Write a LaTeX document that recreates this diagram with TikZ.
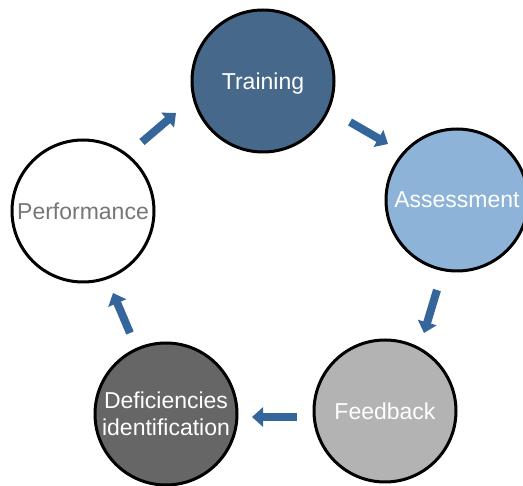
\documentclass[tikz,border=0pt]{standalone}
\usepackage{fontspec}
\setmainfont{Liberation Sans}
\usetikzlibrary{arrows.meta}
\definecolor{arrowblue}{RGB}{52,101,155}
\definecolor{trainfill}{RGB}{70,104,138}
\definecolor{assessfill}{RGB}{141,179,216}
\definecolor{feedfill}{RGB}{179,179,179}
\definecolor{deffill}{RGB}{102,102,102}
\definecolor{perftext}{RGB}{118,118,118}
\tikzset{
  stage/.style={circle, draw=black, line width=3pt, minimum size=142pt, inner sep=0pt,
    align=center, font=\fontsize{23}{27}\selectfont, text=white},
  flow/.style={draw=arrowblue, line width=8pt, -{Triangle[width=19pt,length=11pt]}, arrowblue}
}
\begin{document}
\begin{tikzpicture}[x=1pt,y=-1pt]
\useasboundingbox (0,0) rectangle (523,486);
\node[stage, fill=trainfill, text depth=0pt] (train) at (263,81) {Training};
\node[stage, fill=assessfill] (assess) at (457,200) {Assessment};
\node[stage, fill=feedfill] (feed) at (385,411) {Feedback};
\node[stage, fill=deffill] (defic) at (166,414) {Deficiencies\\identification};
\node[stage, fill=white, text=perftext] (perf) at (83,211) {Performance};
\coordinate (a1s) at (142,142); \coordinate (a1e) at (176,113);
\coordinate (a2s) at (350,122); \coordinate (a2e) at (388,144);
\coordinate (a3s) at (437,290); \coordinate (a3e) at (424,333);
\coordinate (a4s) at (297,417); \coordinate (a4e) at (252,417);
\coordinate (a5s) at (130,333); \coordinate (a5e) at (113,293);
\draw[flow] (a1s) -- (a1e);
\draw[flow] (a2s) -- (a2e);
\draw[flow] (a3s) -- (a3e);
\draw[flow] (a4s) -- (a4e);
\draw[flow] (a5s) -- (a5e);
\end{tikzpicture}
\end{document}
